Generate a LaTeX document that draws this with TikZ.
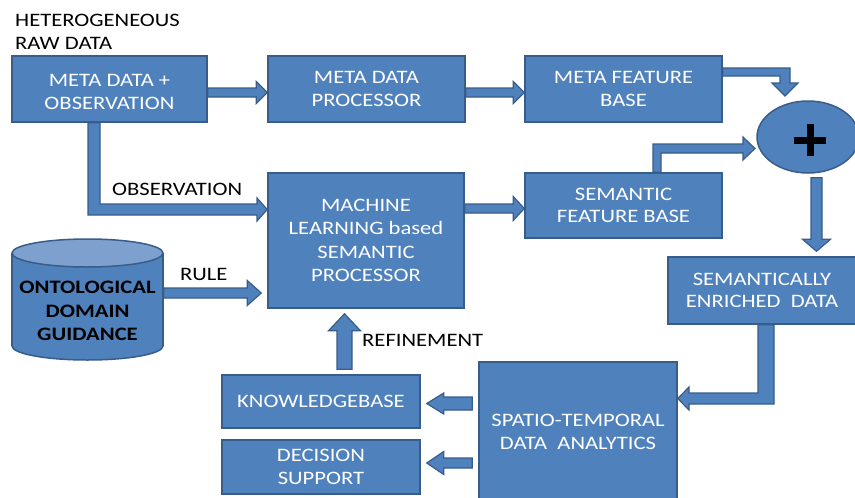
\documentclass[tikz,border=0pt]{standalone}
\usepackage{fontspec}
\setmainfont{Carlito}[FakeStretch=1.19]
\usetikzlibrary{calc,shapes.geometric}
\definecolor{bfill}{HTML}{4F81BD}
\definecolor{bedge}{HTML}{385D8A}
\definecolor{ctop}{HTML}{7DA0CF}
\pgfdeclarelayer{background}
\pgfsetlayers{background,main}
\tikzset{
  box/.style={fill=bfill, draw=bedge, line width=1.5pt, text=white, align=center,
    inner sep=0pt, font=\fontsize{19}{22.5}\selectfont},
  ba/.style={fill=bfill, draw=bedge, line width=1.2pt, line join=miter},
  lbl/.style={text=black, inner sep=0pt, align=left, font=\fontsize{19}{22.5}\selectfont},
}
\newcommand\lowtext{\rule{0pt}{18pt}}
% block arrows: #1 start, #2 tip, #3 bar half width, #4 head half width, #5 head length
\newcommand\blkR[5]{\filldraw[ba] ($(#1)+(0,-#3)$) -- ($(#2)+(-#5,-#3)$) -- ($(#2)+(-#5,-#4)$) -- (#2) -- ($(#2)+(-#5,#4)$) -- ($(#2)+(-#5,#3)$) -- ($(#1)+(0,#3)$) -- cycle;}
\newcommand\blkL[5]{\filldraw[ba] ($(#1)+(0,-#3)$) -- ($(#2)+(#5,-#3)$) -- ($(#2)+(#5,-#4)$) -- (#2) -- ($(#2)+(#5,#4)$) -- ($(#2)+(#5,#3)$) -- ($(#1)+(0,#3)$) -- cycle;}
\newcommand\blkU[5]{\filldraw[ba] ($(#1)+(-#3,0)$) -- ($(#2)+(-#3,#5)$) -- ($(#2)+(-#4,#5)$) -- (#2) -- ($(#2)+(#4,#5)$) -- ($(#2)+(#3,#5)$) -- ($(#1)+(#3,0)$) -- cycle;}
\newcommand\blkD[5]{\filldraw[ba] ($(#1)+(-#3,0)$) -- ($(#2)+(-#3,-#5)$) -- ($(#2)+(-#4,-#5)$) -- (#2) -- ($(#2)+(#4,-#5)$) -- ($(#2)+(#3,-#5)$) -- ($(#1)+(#3,0)$) -- cycle;}
\begin{document}
\begin{tikzpicture}[x=1pt,y=-1pt]
\useasboundingbox (0,0) rectangle (855,498);
\clip (0,0) rectangle (855,498);
\begin{pgfonlayer}{background}
\fill[white] (0,0) rectangle (855,498);
\end{pgfonlayer}

% boxes
\node[box, minimum width=195pt, minimum height=66pt] (b1) at (109.5,89) {\lowtext META DATA +\\OBSERVATION};
\node[box, minimum width=197pt, minimum height=66pt] (b2) at (366.5,89) {META DATA\\PROCESSOR};
\node[box, minimum width=197pt, minimum height=66pt] (b3) at (623.5,89) {META FEATURE\\BASE};
\node[box, minimum width=196pt, minimum height=135pt, font=\fontsize{19}{23.5}\selectfont] (ml) at (366,240.5) {MACHINE\\LEARNING based\\SEMANTIC\\PROCESSOR};
\node[box, minimum width=197pt, minimum height=65pt] (sfb) at (623.5,205.5) {SEMANTIC\\FEATURE BASE};
\node[box, minimum width=188pt, minimum height=67pt] (sed) at (762,290.5) {SEMANTICALLY\\ENRICHED\ \ DATA};
\node[box, minimum width=198pt, minimum height=140pt] (sta) at (578,432) {SPATIO-TEMPORAL\\DATA\ \ ANALYTICS};
\node[box, minimum width=198pt, minimum height=53pt] (kb) at (321,401.5) {KNOWLEDGEBASE};
\node[box, minimum width=198pt, minimum height=54pt] (ds) at (321,467) {DECISION\\SUPPORT};

% summing ellipse
\node[ellipse, fill=bfill, draw=bedge, line width=1.5pt, minimum width=102pt, minimum height=72pt, inner sep=0pt] (plus) at (808,137) {};
\draw[line width=7pt] (794,140) -- (826,140) (810,124) -- (810,156);

% cylinder
\filldraw[fill=bfill, draw=bedge, line width=1.5pt] (87.5,346) ellipse [x radius=75.5pt, y radius=14pt];
\fill[bfill] (12,253) rectangle (163,346);
\draw[bedge, line width=1.5pt] (12,253) -- (12,346) (163,253) -- (163,346);
\filldraw[fill=ctop, draw=bedge, line width=1.5pt] (87.5,253) ellipse [x radius=75.5pt, y radius=14pt];
\node[inner sep=0pt, align=center, text=black, font=\bfseries\fontsize{19}{23.5}\selectfont] (onto) at (87.5,311) {ONTOLOGICAL\\DOMAIN\\GUIDANCE};
\coordinate (ontoR) at (163.75,293);

% labels
\node[lbl, anchor=north west] (het) at (15,14) {HETEROGENEOUS\\RAW DATA};
\node[lbl, anchor=base west] (obs) at (112,195) {OBSERVATION};
\node[lbl, anchor=base west] (rule) at (180,280) {RULE};
\node[lbl, anchor=base west] (ref) at (362,346) {REFINEMENT};

% helper coordinates
\coordinate (ruleT) at ($(ml.west |- 0,293)+(-6,0)$);
\coordinate (staK) at ($(sta.west |- 0,403.5)+(-6,0)$);
\coordinate (kbT) at ($(kb.east |- 0,403.5)+(6,0)$);
\coordinate (staD) at ($(sta.west |- 0,463)+(-6,0)$);
\coordinate (dsT) at ($(ds.east |- 0,463)+(6,0)$);
\coordinate (refS) at ($(kb.north -| 344.5,0)+(0,-5)$);
\coordinate (refT) at ($(ml.south -| 344.5,0)+(0,5)$);
\coordinate (plS) at ($(plus.south -| 816.5,0)+(0,4)$);
\coordinate (plT) at ($(sed.north -| 816.5,0)+(0,-5)$);

\begin{pgfonlayer}{background}
\blkR{b1.east |- 0,92.5}{b2.west |- 0,92.5}{4.5}{11}{11}
\blkR{b2.east |- 0,92.5}{b3.west |- 0,92.5}{4.5}{11}{11}
\blkR{ml.east |- 0,208.5}{sfb.west |- 0,208.5}{4.5}{12}{11}
\blkR{ontoR}{ruleT}{5}{12.5}{14}
\blkL{staK}{kbT}{6.5}{10.5}{17}
\blkL{staD}{dsT}{5}{11.5}{17}
\blkU{refS}{refT}{7.5}{16}{17}
\blkD{plS}{plT}{5.5}{14}{12}
% bent arrows
\filldraw[ba] (b1.south -| 88,0) -- (b1.south -| 100,0) -- (100,204) -- (257,204) -- (257,198)
  -- (ml.west |- 0,209.5) -- (257,221) -- (257,215) -- (88,215) -- cycle;
\filldraw[ba] (b3.east |- 0,68) -- (790,68) -- (790,83) -- (798,83) -- (785,96) -- (772,83)
  -- (780,83) -- (780,76) -- (b3.east |- 0,76) -- cycle;
\filldraw[ba] (sfb.north -| 653,0) -- (653,144) -- (743,144) -- (743,137) -- (755,148.5)
  -- (743,160) -- (743,153) -- (661,153) -- (sfb.north -| 661,0) -- cycle;
\filldraw[ba] (sed.south -| 758,0) -- (sed.south -| 774,0) -- (774,404) -- (689,404) -- (689,410)
  -- (sta.east |- 0,398.5) -- (689,387) -- (689,393) -- (758,393) -- cycle;
\end{pgfonlayer}
\end{tikzpicture}
\end{document}
